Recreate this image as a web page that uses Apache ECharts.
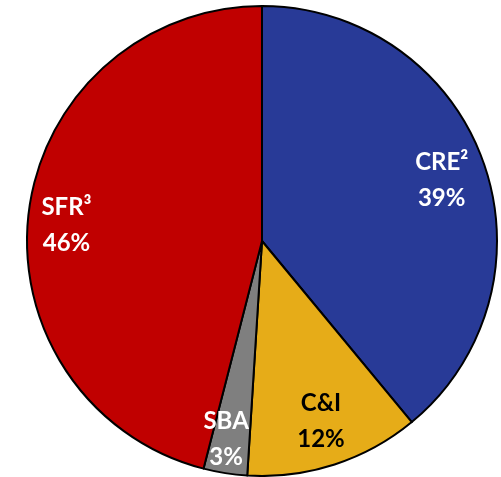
<!DOCTYPE html>
<html>
<head>
<meta charset="utf-8">
<script src="https://cdn.jsdelivr.net/npm/echarts@6/dist/echarts.min.js"></script>
<style>
html,body{margin:0;padding:0;background:#fff;}
#main{width:501px;height:477px;}
</style>
</head>
<body>
<div id="main"></div>
<script>
var names = ['CRE²', 'C&I', 'SBA', 'SFR³'];
var values = [39, 12, 3, 46];
var colors = ['#283A97', '#E6AC18', '#7F7F7F', '#C00000'];
var labelColors = ['#fff', '#000', '#fff', '#fff'];

var labelOffsets = [[0, 4], [0, -1], [-6, 10], [-6, 8]];

var pieData = [], labelData = [];
for (var i = 0; i < names.length; i++) {
    pieData.push({
        name: names[i],
        value: values[i],
        itemStyle: { color: colors[i] }
    });
    labelData.push({
        name: names[i],
        value: values[i],
        label: { color: labelColors[i], offset: labelOffsets[i] }
    });
}

var myChart = echarts.init(document.getElementById('main'));
var option = {
    animation: false,
    series: [
        {
            type: 'pie',
            center: [262, 241],
            radius: [0, 235],
            startAngle: 90,
            clockwise: true,
            silent: true,
            itemStyle: { borderColor: '#000', borderWidth: 2 },
            label: { show: false },
            labelLine: { show: false },
            data: pieData
        },
        {
            // transparent copy, only used to place the labels at ~0.8 r
            type: 'pie',
            center: [262, 241],
            radius: [0, 376],
            startAngle: 90,
            clockwise: true,
            silent: true,
            itemStyle: { color: 'rgba(0,0,0,0)' },
            label: {
                show: true,
                position: 'inside',
                formatter: function (p) { return p.name + '\n' + p.value + '%'; },
                fontFamily: 'Lato',
                fontWeight: 'bold',
                fontSize: 24,
                lineHeight: 36,
                align: 'center'
            },
            labelLine: { show: false },
            data: labelData
        }
    ]
};
myChart.setOption(option);
</script>
</body>
</html>
